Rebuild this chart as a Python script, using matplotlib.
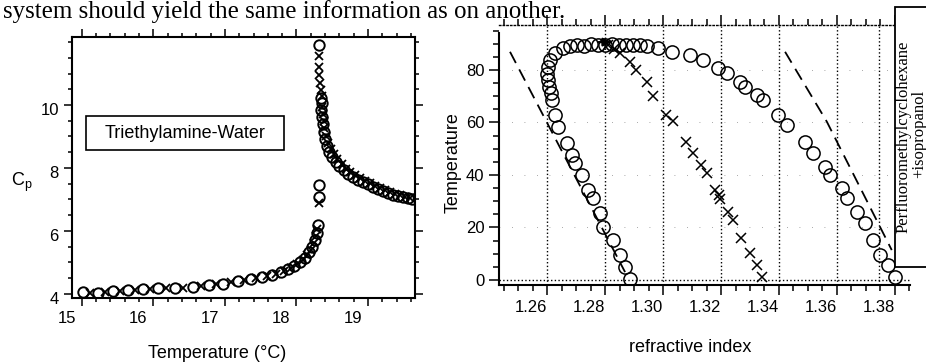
import matplotlib
matplotlib.use("Agg")
import matplotlib.pyplot as plt
import matplotlib.transforms as mtransforms
from matplotlib.patches import Rectangle
from matplotlib.ticker import FixedLocator, MultipleLocator

# ---- left panel: Cp of triethylamine-water vs temperature ----
low_t_o = [15.02, 15.23, 15.44, 15.65, 15.86, 16.07, 16.30, 16.55, 16.78, 16.98,
           17.18, 17.36, 17.52, 17.66, 17.78, 17.88, 17.97, 18.05, 18.12, 18.18,
           18.22, 18.26, 18.28, 18.30, 18.31, 18.31]
low_cp_o = [4.06, 4.02, 4.10, 4.12, 4.15, 4.18, 4.18, 4.23, 4.28, 4.33,
            4.40, 4.46, 4.53, 4.60, 4.68, 4.78, 4.88, 5.00, 5.15, 5.32,
            5.50, 5.72, 5.95, 6.18, 7.09, 7.45]
low_t_x = [15.12, 15.33, 15.54, 15.75, 15.96, 16.18, 16.42, 16.66, 16.88, 17.08,
           17.27, 17.44, 17.59, 17.72, 17.83, 17.93, 18.01, 18.09, 18.15, 18.20,
           18.24, 18.27, 18.29, 18.31]
low_cp_x = [4.02, 4.05, 4.10, 4.12, 4.16, 4.18, 4.20, 4.26, 4.31, 4.37,
            4.43, 4.50, 4.56, 4.64, 4.73, 4.83, 4.94, 5.07, 5.23, 5.41,
            5.61, 5.84, 6.05, 6.88]
up_t_o = [18.32, 18.34, 18.35, 18.34, 18.36, 18.37, 18.38, 18.40, 18.43, 18.46,
          18.50, 18.55, 18.60, 18.66, 18.72, 18.79, 18.86, 18.93, 19.00, 19.07,
          19.14, 19.21, 19.28, 19.35, 19.42, 19.49, 19.56, 19.61]
up_cp_o = [11.90, 10.21, 10.05, 9.85, 9.62, 9.40, 9.15, 8.92, 8.70, 8.52,
           8.36, 8.20, 8.06, 7.93, 7.82, 7.72, 7.63, 7.55, 7.48, 7.41,
           7.33, 7.26, 7.20, 7.15, 7.10, 7.07, 7.04, 7.02]
up_t_x = [18.32, 18.32, 18.32, 18.33, 18.34, 18.35, 18.36, 18.37, 18.38, 18.39,
          18.41, 18.44, 18.48, 18.52, 18.57, 18.63, 18.69, 18.75, 18.82, 18.89,
          18.96, 19.03, 19.10, 19.17, 19.24, 19.31, 19.38, 19.45, 19.52, 19.58]
up_cp_x = [11.55, 11.22, 10.95, 10.69, 10.48, 10.30, 9.95, 9.72, 9.50, 9.27,
           9.03, 8.80, 8.60, 8.44, 8.28, 8.12, 7.98, 7.87, 7.77, 7.68,
           7.59, 7.51, 7.44, 7.37, 7.30, 7.23, 7.18, 7.13, 7.09, 7.06]
cp_xticks = [15, 16, 17, 18, 19]
cp_yticks = [4, 6, 8, 10]

# ---- right panel: temperature vs refractive index ----
ri_o = [1.2886, 1.2869, 1.2852, 1.2828, 1.2793, 1.2783, 1.2759, 1.2741, 1.2721,
        1.2697, 1.2686, 1.2669, 1.2638, 1.2628, 1.2617, 1.2614, 1.2607, 1.2603,
        1.2600, 1.2603, 1.2610, 1.2628, 1.2655,
        1.2679, 1.2703, 1.2728, 1.2752, 1.2776, 1.2800, 1.2824, 1.2848, 1.2872,
        1.2897, 1.2921, 1.2945,
        1.2983, 1.3031, 1.3093, 1.3138, 1.3190, 1.3221, 1.3266, 1.3283, 1.3324,
        1.3345, 1.3397, 1.3428, 1.3490, 1.3517, 1.3559, 1.3576, 1.3617, 1.3634,
        1.3669, 1.3697, 1.3724, 1.3748, 1.3776, 1.3800]
temp_o = [0.4, 5.0, 9.5, 15.2, 20.2, 25.5, 31.2, 34.3, 40.0,
          44.6, 47.6, 52.2, 58.3, 62.9, 68.6, 71.2, 73.5, 76.0,
          78.5, 81.1, 83.8, 86.5, 88.4,
          89.1, 89.5, 89.3, 89.7, 89.5, 89.4, 89.7, 89.5, 89.6,
          89.4, 89.5, 89.1,
          88.4, 86.9, 85.7, 83.8, 80.8, 78.9, 75.4, 73.5, 70.5,
          68.6, 62.9, 59.0, 52.6, 48.4, 43.0, 40.0, 35.0, 31.2,
          25.9, 21.7, 15.2, 9.5, 5.7, 1.1]
ri_x = [1.2810, 1.2830, 1.2852, 1.2886, 1.2908, 1.2943, 1.2966, 1.3010, 1.3034,
        1.3080, 1.3103, 1.3132, 1.3150, 1.3179, 1.3193, 1.3197, 1.3224, 1.3241,
        1.3270, 1.3300, 1.3323, 1.3340]
temp_x = [89.5, 88.0, 86.5, 83.0, 80.0, 75.5, 69.9, 62.9, 60.4,
          52.7, 48.3, 43.8, 40.6, 34.3, 32.5, 31.0, 25.9, 22.9,
          15.9, 10.2, 5.7, 1.3]
dash1_ri = [1.2472, 1.2869]
dash1_t = [86.9, 3.0]
dash2_ri = [1.3421, 1.3565, 1.3789]
dash2_t = [86.9, 60.3, 11.4]
ri_ticks = [1.26, 1.28, 1.30, 1.32, 1.34, 1.36, 1.38]
ri_labels = ["1.26", "1.28", "1.30", "1.32", "1.34", "1.36", "1.38"]
ri_grid = [1.26, 1.28, 1.30, 1.32, 1.34, 1.36, 1.3745]
t_ticks = [0, 20, 40, 60, 80]

W, H = 926.0, 362.0


def shift_labels(fig, labels, dx, dy):
    off = mtransforms.ScaledTranslation(dx / 100.0, dy / 100.0, fig.dpi_scale_trans)
    for lab in labels:
        lab.set_transform(lab.get_transform() + off)


def main():
    plt.rcParams['font.family'] = ['Liberation Sans', 'DejaVu Sans']
    plt.rcParams['mathtext.default'] = 'regular'

    fig = plt.figure(figsize=(9.26, 3.62), dpi=100)

    fig.text(3 / W, 1 - 18 / H, "system should yield the same information as on another.",
             family='Liberation Serif', fontsize=18, va='baseline', ha='left')

    # left panel
    ax1 = fig.add_axes([72 / W, 1 - 298 / H, 343 / W, 261 / H])
    ax1.plot(low_t_o, low_cp_o, 'o', mfc='none', mec='k', ms=7.5, mew=1.4)
    ax1.plot(up_t_o, up_cp_o, 'o', mfc='none', mec='k', ms=7.5, mew=1.4)
    ax1.plot(low_t_x, low_cp_x, 'x', color='k', ms=5.5, mew=1.3)
    ax1.plot(up_t_x, up_cp_x, 'x', color='k', ms=5.5, mew=1.3)
    ax1.set_xlim(14.865, 19.655)
    ax1.set_ylim(3.87, 12.16)
    ax1.xaxis.set_major_locator(FixedLocator(cp_xticks))
    ax1.xaxis.set_minor_locator(MultipleLocator(0.2))
    ax1.yaxis.set_major_locator(FixedLocator(cp_yticks))
    ax1.yaxis.set_minor_locator(MultipleLocator(0.5))
    ax1.tick_params(which='both', direction='out', top=True, right=True,
                    width=1.1, labelsize=12)
    ax1.tick_params(which='major', length=6)
    ax1.tick_params(which='minor', length=3)
    for sp in ax1.spines.values():
        sp.set_linewidth(1.5)
    shift_labels(fig, ax1.get_xticklabels(), -15, 0)
    shift_labels(fig, ax1.get_yticklabels(), 0, -4)
    ax1.add_patch(Rectangle((14 / 343, 148 / 261), 198 / 343, 34 / 261,
                            transform=ax1.transAxes, fill=False, lw=1.2, ec='k'))
    ax1.text(113 / 343, 165 / 261, "Triethylamine-Water", transform=ax1.transAxes,
             ha='center', va='center', fontsize=13)
    fig.text(22 / W, 1 - 182 / H, "C$_p$", fontsize=13, ha='center', va='center')
    fig.text(217 / W, 1 - 353 / H, "Temperature (\u00b0C)", fontsize=13,
             ha='center', va='center')

    # right panel
    ax2 = fig.add_axes([499 / W, 1 - 285 / H, 411 / W, 260.5 / H])
    for g in ri_grid:
        ax2.axvline(g, ls=':', color='k', lw=1.0, zorder=1)
    ax2.axhline(0, ls=':', color='k', lw=1.0, zorder=1)
    for t in t_ticks[1:]:
        ax2.axhline(t, ls=(0, (1, 14)), color='0.55', lw=0.6, zorder=1)
    ax2.plot(dash1_ri, dash1_t, color='k', lw=1.3, dashes=(7, 4))
    ax2.plot(dash2_ri, dash2_t, color='k', lw=1.3, dashes=(7, 4))
    ax2.plot(ri_o, temp_o, 'o', mfc='none', mec='k', ms=9.5, mew=1.1)
    ax2.plot(ri_x, temp_x, 'x', color='k', ms=7, mew=1.1)
    ax2.annotate("", xy=(1.2832, 90.6), xytext=(1.2768, 90.6),
                 arrowprops=dict(arrowstyle='-|>', color='k', lw=1.6,
                                 mutation_scale=12))
    ax2.set_xlim(1.2434, 1.3852)
    ax2.set_ylim(-1.9, 97.3)
    ax2.xaxis.set_major_locator(FixedLocator(ri_ticks))
    ax2.set_xticklabels(ri_labels)
    ax2.xaxis.set_minor_locator(MultipleLocator(0.005))
    ax2.yaxis.set_major_locator(FixedLocator(t_ticks))
    ax2.yaxis.set_minor_locator(MultipleLocator(5))
    ax2.tick_params(which='both', direction='out', top=True, right=False,
                    width=1.1, labelsize=12)
    ax2.tick_params(which='major', length=7)
    ax2.tick_params(which='minor', length=4)
    ax2.spines['right'].set_visible(False)
    ax2.spines['top'].set_linestyle(':')
    ax2.spines['top'].set_linewidth(1.0)
    ax2.spines['left'].set_bounds(-1.9, 94.1)
    ax2.spines['left'].set_linewidth(1.5)
    ax2.spines['bottom'].set_linewidth(1.5)
    shift_labels(fig, ax2.get_xticklabels(), -16, 0)
    fig.text(453 / W, 1 - 163 / H, "Temperature", rotation=90, fontsize=13,
             ha='center', va='center')
    fig.text(690 / W, 1 - 347 / H, "refractive index", fontsize=13,
             ha='center', va='center')

    # side legend box
    fig.add_artist(Rectangle((895 / W, 1 - 267 / H), 40 / W, 260 / H,
                             transform=fig.transFigure, fc='white', ec='k',
                             lw=1.3, zorder=10))
    fig.text(904 / W, 1 - 137 / H, "Perfluoromethylcyclohexane", rotation=90,
             family='Liberation Serif', fontsize=12, ha='center', va='center',
             zorder=11)
    fig.text(919 / W, 1 - 134 / H, "+isopropanol", rotation=90,
             family='Liberation Serif', fontsize=12, ha='center', va='center',
             zorder=11)

    fig.savefig("out.png", dpi=100)


if __name__ == "__main__":
    main()
